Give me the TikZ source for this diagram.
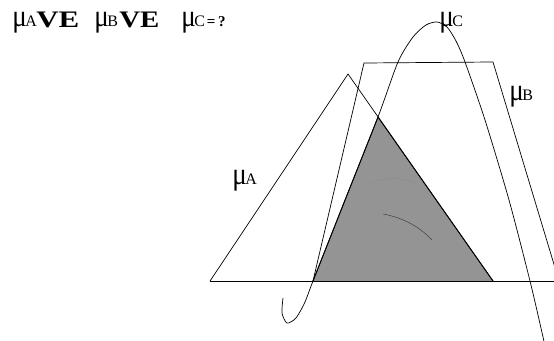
\documentclass[tikz,border=0pt]{standalone}
\usepackage{fontspec}
\setmainfont{Liberation Serif}
\usepackage{graphicx}
\newcommand{\memb}[1]{{\fontsize{27}{27}\selectfont\scalebox{1}[1.15]{μ}}\hspace{-1.5pt}{\fontsize{16}{16}\selectfont #1}}
\newcommand{\ve}[1]{\resizebox{#1}{15.5pt}{\bfseries VE}}

\begin{document}
\begin{tikzpicture}[x=1pt,y=-1pt,line width=.7pt,
    lbl/.style={anchor=base west,inner sep=0pt}]
            \useasboundingbox (0,0) rectangle (554,340);
            \clip (0,0) rectangle (554,340);
            % shaded part
            \fill[black!42] (313,281) -- (378,117) -- (493,281) -- cycle;
            \draw[black!75,line width=.5pt] (383,214) .. controls (400,217) and (418,225) .. (432,240);
            \draw[black!45,line width=.5pt] (371,183) .. controls (385,177) and (402,177) .. (415,183);
            \draw[line width=.9pt] (313,281) -- (378,117) -- (493,281);
            % base line
            \draw (210,281) -- (554,281);
            % A
            \draw (210,281) -- (348,74) -- (493,281);
            % B
            \draw (313,281) -- (364,63) -- (493,62) -- (559,281);
            % C
            \draw plot[smooth,tension=.45] coordinates {(283,298) (282,313) (287,323) (296,318) (305,302) (313,281) (345,200) (378,117) (398,62) (413,37) (426,25) (437,22) (447,27) (456,41) (465,62) (485,120) (509,200) (530,281) (543,337) (548,360)};
            \node[lbl] (title) at (12,27) {\makebox[24pt][l]{\memb{A}}\makebox[58pt][l]{\ve{43pt}}\makebox[25pt][l]{\memb{B}}\makebox[62pt][l]{\ve{40pt}}\memb{C}\hspace{2pt}{\fontsize{15}{15}\selectfont\bfseries =\,?}};
            \node[lbl] (muA) at (232,184) {\memb{A}};
            \node[lbl] (muB) at (509,100) {\memb{B}};
            \node[lbl] (muC) at (439,26) {\memb{C}};
        \end{tikzpicture}
\end{document}
